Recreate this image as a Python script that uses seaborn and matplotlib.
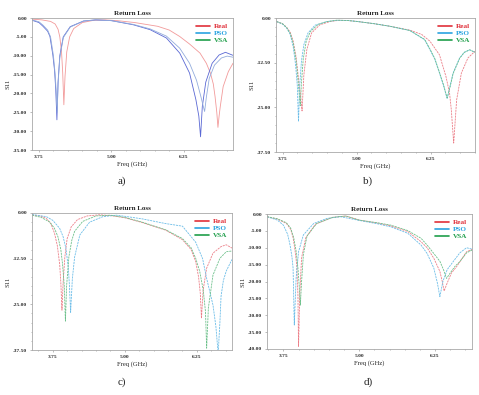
import matplotlib
matplotlib.use('Agg')
import matplotlib.pyplot as plt
import seaborn as sns
from matplotlib.lines import Line2D
from matplotlib.ticker import MultipleLocator, FormatStrFormatter

# S11 (dB)
# panel a
a_real_f = [3.63, 3.80, 3.95, 4.03, 4.08, 4.11, 4.14, 4.16, 4.18, 4.20, 4.23, 4.28, 4.35, 4.50, 4.70, 4.90, 5.10, 5.40, 5.80, 6.00, 6.18, 6.35, 6.53, 6.64, 6.71, 6.76, 6.79, 6.82, 6.84, 6.86, 6.88, 6.93, 7.02, 7.10]
a_real_s = [-0.3, -0.5, -0.9, -1.6, -3.0, -5.0, -9.0, -14.5, -23.0, -15.5, -9.0, -5.0, -2.8, -1.2, -0.6, -0.5, -0.7, -1.2, -2.2, -3.2, -4.9, -6.9, -9.3, -12.0, -14.6, -17.5, -20.8, -25.0, -29.0, -26.0, -23.5, -18.2, -14.2, -12.0]
a_pso_f = [3.63, 3.75, 3.82, 3.90, 3.94, 3.99, 4.02, 4.04, 4.06, 4.08, 4.11, 4.17, 4.29, 4.52, 4.73, 5.00, 5.38, 5.67, 5.95, 6.18, 6.35, 6.46, 6.51, 6.54, 6.57, 6.63, 6.74, 6.86, 6.97, 7.10]
a_pso_s = [-0.6, -1.2, -2.2, -3.5, -4.9, -9.8, -14.0, -19.0, -27.0, -17.0, -10.0, -5.0, -2.3, -0.8, -0.5, -0.7, -1.8, -3.1, -5.3, -9.3, -14.6, -21.7, -26.0, -31.5, -23.5, -17.0, -12.0, -9.8, -9.1, -9.9]
a_vsa_f = [3.63, 3.75, 3.82, 3.90, 3.95, 4.00, 4.03, 4.05, 4.065, 4.08, 4.11, 4.17, 4.29, 4.52, 4.73, 5.00, 5.38, 5.67, 5.95, 6.18, 6.35, 6.47, 6.54, 6.58, 6.61, 6.64, 6.69, 6.78, 6.90, 7.00, 7.10]
a_vsa_s = [-0.5, -1.0, -1.9, -3.2, -5.0, -10.0, -15.0, -20.0, -25.0, -17.5, -10.5, -5.2, -2.4, -0.8, -0.5, -0.7, -1.7, -2.9, -4.8, -8.0, -12.0, -16.5, -20.5, -23.0, -24.8, -21.0, -16.0, -12.5, -10.6, -10.1, -10.4]

# panel b
b_real_f = [3.65, 3.75, 3.82, 3.88, 3.93, 3.98, 4.02, 4.05, 4.08, 4.11, 4.16, 4.24, 4.38, 4.55, 4.70, 4.85, 5.00, 5.30, 5.56, 5.90, 6.10, 6.24, 6.40, 6.51, 6.57, 6.60, 6.64, 6.69, 6.77, 6.88, 7.00]
b_real_s = [-1.0, -1.6, -2.6, -4.0, -6.5, -11.0, -17.0, -21.0, -26.0, -16.0, -8.9, -4.2, -1.9, -1.0, -0.65, -0.7, -0.95, -1.6, -2.3, -3.4, -4.6, -6.5, -10.3, -16.4, -21.0, -25.7, -35.0, -22.9, -15.4, -11.2, -9.3]
b_pso_f = [3.65, 3.75, 3.82, 3.88, 3.93, 3.97, 4.00, 4.02, 4.04, 4.07, 4.11, 4.18, 4.30, 4.50, 4.67, 4.85, 5.00, 5.30, 5.56, 5.90, 6.15, 6.24, 6.32, 6.40, 6.47, 6.53, 6.58, 6.63, 6.74, 6.82, 6.91, 7.00]
b_pso_s = [-1.0, -1.7, -2.8, -4.6, -8.0, -13.0, -19.0, -29.0, -19.0, -12.0, -7.5, -4.2, -2.0, -1.0, -0.65, -0.7, -0.95, -1.6, -2.3, -3.5, -6.1, -8.9, -11.5, -15.4, -19.0, -22.6, -19.0, -15.4, -11.2, -9.6, -8.9, -9.6]
b_vsa_f = [3.65, 3.75, 3.82, 3.88, 3.93, 3.98, 4.01, 4.03, 4.05, 4.07, 4.10, 4.15, 4.22, 4.35, 4.50, 4.67, 4.85, 5.00, 5.30, 5.56, 5.90, 6.15, 6.24, 6.32, 6.40, 6.47, 6.53, 6.58, 6.63, 6.74, 6.82, 6.91, 7.00]
b_vsa_s = [-1.0, -1.6, -2.7, -4.3, -7.0, -12.0, -17.0, -21.0, -24.5, -18.0, -11.5, -6.5, -3.8, -1.8, -1.0, -0.6, -0.7, -0.95, -1.6, -2.3, -3.5, -6.0, -8.7, -11.3, -15.2, -18.8, -22.4, -19.2, -15.6, -11.3, -9.6, -8.9, -9.6]

# panel c
c_real_f = [3.39, 3.55, 3.64, 3.72, 3.78, 3.83, 3.87, 3.89, 3.91, 3.93, 3.96, 4.00, 4.07, 4.18, 4.35, 4.56, 4.75, 5.00, 5.30, 5.71, 6.00, 6.15, 6.23, 6.28, 6.31, 6.33, 6.36, 6.42, 6.53, 6.67, 6.76, 6.86]
c_real_s = [-0.5, -0.9, -1.5, -3.0, -5.5, -9.0, -14.0, -19.0, -26.6, -19.0, -12.0, -7.0, -3.8, -1.8, -0.8, -0.5, -0.7, -1.3, -2.6, -4.7, -7.3, -10.0, -13.3, -17.5, -22.0, -28.8, -21.0, -15.1, -11.0, -9.2, -8.7, -9.6]
c_pso_f = [3.39, 3.64, 3.75, 3.87, 3.93, 3.98, 4.02, 4.04, 4.06, 4.09, 4.13, 4.22, 4.39, 4.62, 4.85, 5.00, 5.30, 5.71, 6.00, 6.23, 6.35, 6.42, 6.53, 6.58, 6.62, 6.65, 6.67, 6.71, 6.76, 6.86]
c_pso_s = [-0.4, -1.0, -2.0, -4.2, -6.5, -9.8, -15.0, -20.0, -27.2, -18.0, -12.0, -6.0, -2.5, -1.0, -0.6, -0.9, -1.6, -2.9, -3.6, -8.0, -12.5, -17.9, -25.2, -31.0, -38.5, -30.0, -22.8, -18.5, -15.9, -12.7]
c_vsa_f = [3.39, 3.55, 3.70, 3.78, 3.84, 3.89, 3.92, 3.95, 3.97, 3.99, 4.03, 4.08, 4.13, 4.27, 4.50, 4.75, 5.00, 5.30, 5.71, 6.00, 6.15, 6.23, 6.30, 6.36, 6.40, 6.42, 6.45, 6.53, 6.65, 6.76, 6.86]
c_vsa_s = [-0.6, -1.2, -2.5, -4.2, -6.5, -10.0, -14.0, -20.0, -29.6, -20.0, -12.0, -7.5, -5.0, -2.3, -0.8, -0.6, -1.2, -2.5, -4.6, -7.0, -9.5, -12.4, -16.0, -21.0, -27.0, -37.0, -26.0, -17.0, -12.4, -10.6, -10.4]

# panel d
d_real_f = [3.48, 3.65, 3.80, 3.87, 3.91, 3.94, 3.97, 3.99, 4.00, 4.02, 4.05, 4.12, 4.28, 4.56, 4.78, 5.00, 5.30, 5.52, 5.80, 6.02, 6.12, 6.23, 6.33, 6.37, 6.40, 6.45, 6.52, 6.61, 6.77, 6.86]
d_real_s = [-0.8, -1.5, -2.8, -4.5, -7.0, -10.5, -15.0, -24.0, -39.3, -24.0, -13.0, -7.0, -3.0, -1.0, -0.6, -1.8, -2.7, -3.5, -5.2, -8.2, -10.0, -13.1, -17.0, -20.0, -22.8, -20.5, -17.5, -15.5, -11.2, -10.5]
d_pso_f = [3.48, 3.65, 3.75, 3.82, 3.86, 3.89, 3.91, 3.93, 3.96, 4.00, 4.08, 4.25, 4.47, 4.69, 5.00, 5.30, 5.52, 5.80, 6.02, 6.12, 6.23, 6.29, 6.33, 6.38, 6.45, 6.55, 6.66, 6.77, 6.86]
d_pso_s = [-0.8, -1.8, -3.3, -6.0, -9.2, -12.5, -16.0, -32.9, -19.0, -11.2, -6.2, -2.8, -1.3, -0.8, -1.9, -2.9, -3.8, -5.7, -9.2, -11.7, -16.0, -20.5, -24.5, -20.0, -16.5, -14.1, -11.5, -10.0, -10.4]
d_vsa_f = [3.48, 3.65, 3.80, 3.87, 3.92, 3.96, 3.99, 4.01, 4.03, 4.05, 4.08, 4.14, 4.30, 4.56, 4.78, 5.00, 5.30, 5.52, 5.80, 6.02, 6.12, 6.23, 6.33, 6.39, 6.44, 6.50, 6.58, 6.66, 6.77, 6.86]
d_vsa_s = [-0.8, -1.4, -2.6, -4.2, -7.0, -11.0, -16.0, -21.0, -27.0, -20.0, -12.0, -6.5, -2.8, -1.0, -0.6, -1.8, -2.6, -3.3, -4.9, -7.2, -9.2, -11.7, -14.0, -16.5, -19.1, -17.5, -15.5, -14.1, -11.5, -10.7]

names = ['Real', 'PSO', 'VSA']
legend_colors = ['#e0303a', '#2aa3e0', '#1f9e4a']

sns.set_theme(style='white')
plt.rcParams['font.family'] = ['Liberation Serif', 'DejaVu Serif']
plt.rcParams['axes.unicode_minus'] = False

W, H = 479, 395
fig = plt.figure(figsize=(W / 100, H / 100), dpi=100)


def px_axes(l, t, r, b):
    return fig.add_axes([l / W, 1 - b / H, (r - l) / W, (b - t) / H])


panels = [
    dict(box=(32, 18, 233, 150), xlim=(3.63, 7.10), ylim=(-35, 0), ystep=5, yminor=None,
         curves=[(a_real_f, a_real_s), (a_pso_f, a_pso_s), (a_vsa_f, a_vsa_s)],
         colors=['#f29a9a', '#5a68d4', '#93acdc'], ls='-', tag='a)', tagpos=(122, 181)),
    dict(box=(276, 18, 475, 152), xlim=(3.64, 7.00), ylim=(-37.5, 0), ystep=12.5, yminor=2.5,
         curves=[(b_real_f, b_real_s), (b_pso_f, b_pso_s), (b_vsa_f, b_vsa_s)],
         colors=['#ec7f88', '#6cbde8', '#6cc08a'], ls=(0, (2.5, 1.0)), tag='b)', tagpos=(368, 181)),
    dict(box=(32, 213, 232, 350), xlim=(3.39, 6.86), ylim=(-37.5, 0), ystep=12.5, yminor=2.5,
         curves=[(c_real_f, c_real_s), (c_pso_f, c_pso_s), (c_vsa_f, c_vsa_s)],
         colors=['#ec7f88', '#6cbde8', '#6cc08a'], ls=(0, (2.5, 1.0)), tag='c)', tagpos=(122, 382)),
    dict(box=(267, 214, 472, 349), xlim=(3.48, 6.86), ylim=(-40, 0), ystep=5, yminor=None,
         curves=[(d_real_f, d_real_s), (d_pso_f, d_pso_s), (d_vsa_f, d_vsa_s)],
         colors=['#ec7f88', '#6cbde8', '#6cc08a'], ls=(0, (2.5, 1.0)), tag='d)', tagpos=(368, 382)),
]

for p in panels:
    ax = px_axes(*p['box'])
    for (f, s), c in zip(p['curves'], p['colors']):
        sns.lineplot(x=f, y=s, ax=ax, color=c, lw=0.6, linestyle=p['ls'],
                     sort=False, estimator=None)
    ax.set_xlim(*p['xlim'])
    ax.set_ylim(*p['ylim'])
    ax.set_xticks([3.75, 5.00, 6.25])
    ax.xaxis.set_minor_locator(MultipleLocator(0.25))
    lo = p['ylim'][0]
    ticks = []
    v = 0.0
    while v >= lo - 1e-9:
        ticks.append(v)
        v -= p['ystep']
    ax.set_yticks(ticks)
    if p['yminor']:
        ax.yaxis.set_minor_locator(MultipleLocator(p['yminor']))
    ax.xaxis.set_major_formatter(FormatStrFormatter('%.2f'))
    ax.yaxis.set_major_formatter(FormatStrFormatter('%.2f'))
    ax.tick_params(which='both', direction='out', length=1.5, width=0.4,
                   color='#888888', labelsize=3.9, pad=2)
    ax.tick_params(which='major', bottom=True, left=True)
    ax.tick_params(which='minor', bottom=True, left=True, length=1.0)
    for lab in ax.get_xticklabels() + ax.get_yticklabels():
        lab.set_fontweight('bold')
    for sp in ax.spines.values():
        sp.set_color('#a8a8a8')
        sp.set_linewidth(0.6)
    ax.set_title('Return Loss', fontsize=5, fontweight='bold', pad=2)
    ax.set_xlabel('Freq (GHz)', fontsize=4.8, labelpad=2)
    ax.set_ylabel('S11', fontsize=4.8, labelpad=2)
    handles = [Line2D([], [], color=c, lw=1.2) for c in legend_colors]
    ax.legend(handles, names, loc='upper right', frameon=False,
              prop={'weight': 'bold', 'size': 5.2}, labelcolor=legend_colors,
              handlelength=2.0, handletextpad=0.5, labelspacing=0.15,
              borderaxespad=0.3)
    fig.text(p['tagpos'][0] / W, 1 - p['tagpos'][1] / H, p['tag'],
             ha='center', va='center', fontsize=8)

fig.savefig('out.png', dpi=100)
